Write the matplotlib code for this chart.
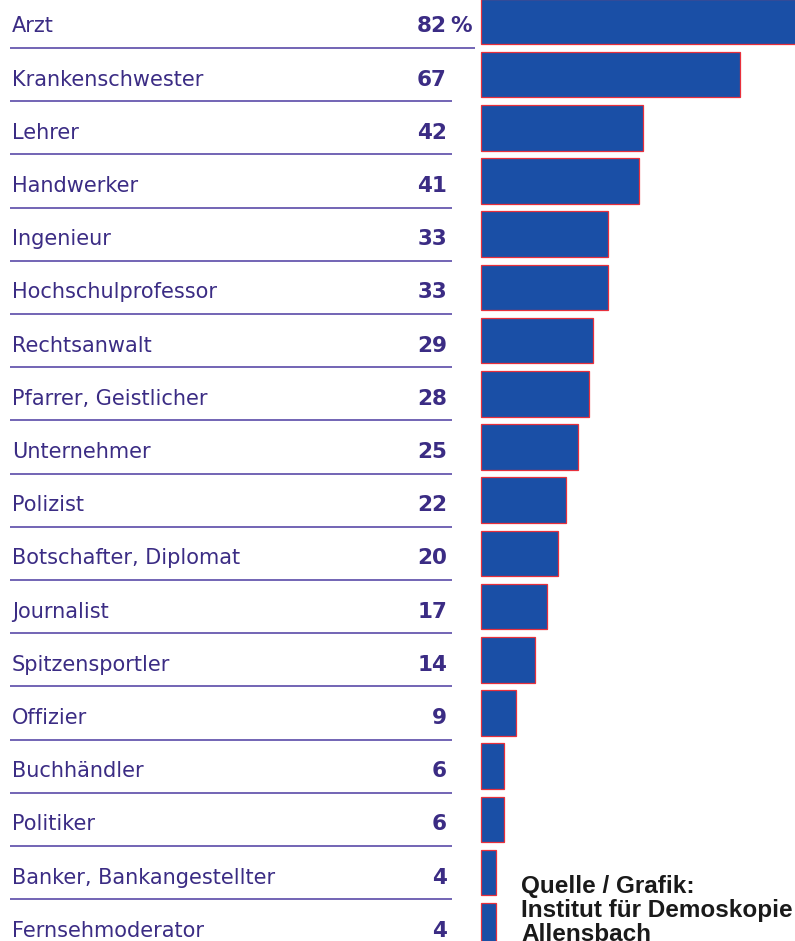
import matplotlib
matplotlib.use("Agg")
import matplotlib.pyplot as plt
from matplotlib.transforms import blended_transform_factory

categories = ["Arzt", "Krankenschwester", "Lehrer", "Handwerker", "Ingenieur",
              "Hochschulprofessor", "Rechtsanwalt", "Pfarrer, Geistlicher",
              "Unternehmer", "Polizist", "Botschafter, Diplomat", "Journalist",
              "Spitzensportler", "Offizier", "Buchhändler", "Politiker",
              "Banker, Bankangestellter", "Fernsehmoderator"]
values = [82, 67, 42, 41, 33, 33, 29, 28, 25, 22, 20, 17, 14, 9, 6, 6, 4, 4]
source_lines = ["Quelle / Grafik:", "Institut für Demoskopie", "Allensbach"]

W, H = 795, 941
fig = plt.figure(figsize=(W / 100, H / 100), dpi=100)
ax = fig.add_axes([0, 0, 1, 1])
ax.set_axis_off()

px_per_unit = 3.86
bar_start = 481
pitch = 53.2
row0 = 21.4
ax.set_xlim(-bar_start / px_per_unit, (W - bar_start) / px_per_unit)
ax.set_ylim((H - row0) / pitch, -row0 / pitch)

bar_col = "#1a4fa6"
edge_col = "#e8303c"
txt_col = "#3b2c84"
line_col = "#5a4aa8"

n = len(categories)
ys = list(range(n))
ax.barh(ys, values, height=0.86, color=bar_col, edgecolor=edge_col, linewidth=0.9)

tr = blended_transform_factory(ax.transAxes, ax.transData)
off = 11 / pitch
for i, (c, v) in enumerate(zip(categories, values)):
    ax.text(12 / W, i + off, c, transform=tr, ha="left", va="baseline",
            fontsize=15, color=txt_col, family="DejaVu Sans")
    ax.text(447 / W, i + off, str(v), transform=tr, ha="right", va="baseline",
            fontsize=15.5, color=txt_col, fontweight="bold", family="DejaVu Sans")
    if i == 0:
        ax.text(450 / W, i + off, "%", transform=tr, ha="left", va="baseline",
                fontsize=15.5, color=txt_col, fontweight="bold", family="DejaVu Sans")
    if i < n - 1:
        xend = 475 if i == 0 else 452
        ax.plot([10 / W, xend / W], [i + 0.5, i + 0.5], transform=tr,
                color=line_col, linewidth=1.2, solid_capstyle="butt")

for k, s in enumerate(source_lines):
    fig.text(521 / W, 1 - (893 + 24 * k) / H, s, ha="left", va="baseline",
             fontsize=17.5, fontweight="bold", color="#1a1a1a", family="Liberation Sans")

fig.savefig("out.png", dpi=100, facecolor="white")
